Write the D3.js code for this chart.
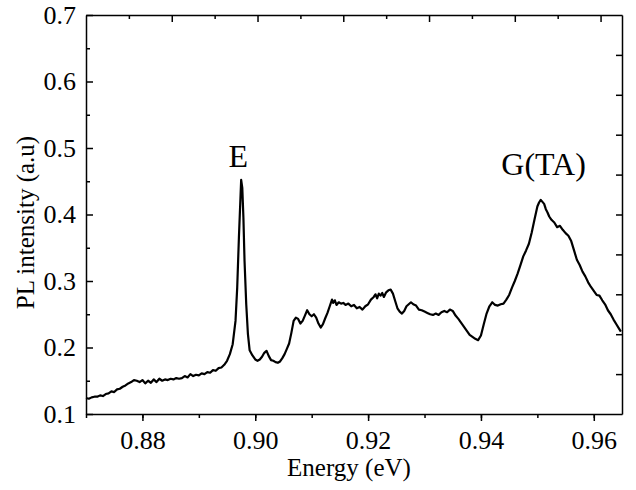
<!DOCTYPE html>
<html>
<head>
<meta charset="utf-8">
<script src="https://cdn.jsdelivr.net/npm/d3@7"></script>
<style>
  body { margin: 0; background: #fff; }
  .axis path, .axis line { stroke: #000; stroke-width: 1.5px; }
</style>
</head>
<body>
<svg width="636" height="490"></svg>
<script>
(function() {
  'use strict';

  // PL spectrum
  const energy = [
    0.8700, 0.8705, 0.8710, 0.8715, 0.8720, 0.8725, 0.8730, 0.8735, 0.8740, 0.8745,
    0.8750, 0.8755, 0.8760, 0.8765, 0.8770, 0.8775, 0.8780, 0.8785, 0.8790, 0.8795,
    0.8800, 0.8805, 0.8810, 0.8815, 0.8820, 0.8825, 0.8830, 0.8835, 0.8840, 0.8845,
    0.8850, 0.8855, 0.8860, 0.8865, 0.8870, 0.8875, 0.8880, 0.8885, 0.8890, 0.8895,
    0.8900, 0.8905, 0.8910, 0.8915, 0.8920, 0.8925, 0.8930, 0.8935, 0.8940, 0.8945,
    0.8950, 0.8955, 0.8960, 0.8965, 0.8968, 0.8971, 0.8974, 0.8975, 0.8977, 0.8979,
    0.8981, 0.8984, 0.8987, 0.8990, 0.8995, 0.9000, 0.9004, 0.9008, 0.9012, 0.9016,
    0.9020, 0.9024, 0.9028, 0.9032, 0.9036, 0.9040, 0.9044, 0.9048, 0.9052, 0.9056,
    0.9060, 0.9064, 0.9068, 0.9072, 0.9076, 0.9080, 0.9084, 0.9088, 0.9092, 0.9096,
    0.9100, 0.9104, 0.9108, 0.9112, 0.9116, 0.9120, 0.9124, 0.9128, 0.9132, 0.9136,
    0.9138, 0.9141, 0.9144, 0.9148, 0.9152, 0.9156, 0.9160, 0.9165, 0.9170, 0.9175,
    0.9180, 0.9185, 0.9190, 0.9195, 0.9200, 0.9205, 0.9210, 0.9213, 0.9216, 0.9219,
    0.9222, 0.9225, 0.9228, 0.9232, 0.9236, 0.9240, 0.9244, 0.9248, 0.9252, 0.9256,
    0.9260, 0.9264, 0.9268, 0.9272, 0.9276, 0.9280, 0.9285, 0.9290, 0.9295, 0.9300,
    0.9305, 0.9310, 0.9315, 0.9320, 0.9325, 0.9330, 0.9335, 0.9340, 0.9345, 0.9350,
    0.9355, 0.9360, 0.9365, 0.9370, 0.9375, 0.9380, 0.9385, 0.9390, 0.9395, 0.9400,
    0.9405, 0.9410, 0.9415, 0.9420, 0.9425, 0.9430, 0.9435, 0.9440, 0.9445, 0.9450,
    0.9455, 0.9460, 0.9465, 0.9470, 0.9475, 0.9480, 0.9485, 0.9490, 0.9495, 0.9500,
    0.9503, 0.9506, 0.9509, 0.9512, 0.9515, 0.9518, 0.9521, 0.9525, 0.9530, 0.9535,
    0.9540, 0.9545, 0.9550, 0.9555, 0.9560, 0.9565, 0.9570, 0.9575, 0.9580, 0.9585,
    0.9590, 0.9595, 0.9600, 0.9605, 0.9610, 0.9615, 0.9620, 0.9625, 0.9630, 0.9635,
    0.9640, 0.9645, 0.9648,
  ];
  const intensity = [
    0.124, 0.123, 0.125, 0.126, 0.126, 0.128, 0.127, 0.130, 0.131, 0.134,
    0.133, 0.137, 0.138, 0.141, 0.143, 0.146, 0.148, 0.151, 0.150, 0.148,
    0.151, 0.146, 0.150, 0.147, 0.152, 0.148, 0.153, 0.150, 0.152, 0.151,
    0.153, 0.152, 0.154, 0.153, 0.154, 0.157, 0.155, 0.160, 0.157, 0.159,
    0.158, 0.161, 0.160, 0.163, 0.162, 0.166, 0.165, 0.169, 0.170, 0.174,
    0.180, 0.190, 0.205, 0.240, 0.290, 0.365, 0.430, 0.452, 0.440, 0.395,
    0.330, 0.265, 0.220, 0.196, 0.188, 0.182, 0.180, 0.182, 0.186, 0.192,
    0.195, 0.187, 0.181, 0.180, 0.178, 0.177, 0.179, 0.184, 0.190, 0.198,
    0.206, 0.222, 0.240, 0.245, 0.243, 0.236, 0.240, 0.248, 0.256, 0.250,
    0.247, 0.250, 0.245, 0.236, 0.230, 0.235, 0.244, 0.252, 0.262, 0.272,
    0.267, 0.271, 0.264, 0.268, 0.266, 0.267, 0.264, 0.266, 0.262, 0.264,
    0.259, 0.261, 0.257, 0.262, 0.265, 0.272, 0.276, 0.280, 0.274, 0.281,
    0.278, 0.282, 0.276, 0.283, 0.286, 0.287, 0.281, 0.270, 0.259, 0.254,
    0.251, 0.255, 0.262, 0.265, 0.268, 0.265, 0.263, 0.257, 0.256, 0.254,
    0.252, 0.250, 0.249, 0.251, 0.249, 0.253, 0.255, 0.253, 0.257, 0.255,
    0.248, 0.243, 0.237, 0.231, 0.225, 0.219, 0.216, 0.213, 0.211, 0.218,
    0.235, 0.251, 0.262, 0.268, 0.264, 0.263, 0.265, 0.266, 0.272, 0.279,
    0.290, 0.300, 0.311, 0.324, 0.337, 0.346, 0.356, 0.373, 0.393, 0.412,
    0.418, 0.422, 0.419, 0.416, 0.408, 0.403, 0.397, 0.392, 0.388, 0.381,
    0.383, 0.377, 0.372, 0.368, 0.360, 0.346, 0.332, 0.324, 0.314, 0.307,
    0.298, 0.291, 0.285, 0.279, 0.278, 0.271, 0.265, 0.256, 0.250, 0.242,
    0.235, 0.228, 0.224,
  ];

  const xTicks = [0.88, 0.90, 0.92, 0.94, 0.96];
  const yTicks = [0.1, 0.2, 0.3, 0.4, 0.5, 0.6, 0.7];
  const peakLabels = [
    {text: 'E', e: 0.8970, v: 0.489},
    {text: 'G(TA)', e: 0.9511, v: 0.476},
  ];

  const serif = '"Liberation Serif", "Times New Roman", serif';
  const margin = {top: 15, right: 14, bottom: 76, left: 86};
  const svg = d3.select('svg');
  const width = +svg.attr('width') - margin.left - margin.right;
  const height = +svg.attr('height') - margin.top - margin.bottom;

  const g = svg.append('g')
      .attr('transform', 'translate(' + margin.left + ',' + margin.top + ')');

  const x = d3.scaleLinear().domain([0.87, 0.965]).range([0, width]);
  const y = d3.scaleLinear().domain([0.1, 0.7]).range([height, 0]);
  // unlabelled mirror axes carry their own tick spacing
  const xTop = d3.scaleLinear().domain([0, 12.5]).range([0, width]);
  const yRight = d3.scaleLinear().domain([0, 10]).range([height, 0]);

  const fmt = d3.format('.2f');

  // bottom axis: major labelled, minor in between, ticks outward
  g.append('g')
      .attr('class', 'axis')
      .attr('transform', 'translate(0,' + height + ')')
      .call(d3.axisBottom(x).tickValues(d3.range(0.87, 0.9651, 0.01)).tickSize(4).tickFormat(''))
      .call((a) => a.select('.domain').remove());
  g.append('g')
      .attr('class', 'axis')
      .attr('transform', 'translate(0,' + height + ')')
      .call(d3.axisBottom(x).tickValues(xTicks).tickSize(7).tickSizeOuter(0).tickFormat(fmt).tickPadding(10));

  // left axis: ticks inward
  g.append('g')
      .attr('class', 'axis')
      .call(d3.axisLeft(y).tickValues(d3.range(0.15, 0.7, 0.1)).tickSize(-4).tickFormat(''))
      .call((a) => a.select('.domain').remove());
  g.append('g')
      .attr('class', 'axis')
      .call(d3.axisLeft(y).tickValues(yTicks).tickSize(-7).tickSizeOuter(0).tickFormat(d3.format('.1f')).tickPadding(10));

  // top axis
  g.append('g')
      .attr('class', 'axis')
      .call(d3.axisTop(xTop).tickValues(d3.range(1, 13)).tickFormat('')
          .tickSizeOuter(0).tickSizeInner(-4))
      .call((a) => a.selectAll('.tick line')
          .attr('y2', (d) => d % 2 === 0 ? 7 : 4));

  // right axis
  g.append('g')
      .attr('class', 'axis')
      .attr('transform', 'translate(' + width + ',0)')
      .call(d3.axisRight(yRight).tickValues(d3.range(1, 10)).tickFormat('')
          .tickSizeOuter(0).tickSizeInner(-6));

  g.selectAll('.axis text')
      .style('font-family', serif)
      .style('font-size', '26px')
      .style('fill', '#000');

  const pts = energy.map((e, i) => [e, intensity[i]]);
  const line = d3.line()
      .x((d) => x(d[0]))
      .y((d) => y(d[1]));

  g.append('path')
      .datum(pts)
      .attr('fill', 'none')
      .attr('stroke', '#000')
      .attr('stroke-width', 2.2)
      .attr('stroke-linejoin', 'round')
      .attr('d', line);

  g.selectAll('.peak')
      .data(peakLabels)
      .enter().append('text')
      .attr('class', 'peak')
      .attr('x', (d) => x(d.e))
      .attr('y', (d) => y(d.v))
      .attr('dy', '0.35em')
      .attr('text-anchor', 'middle')
      .style('font-family', serif)
      .style('font-size', '32px')
      .text((d) => d.text);

  svg.append('text')
      .attr('x', margin.left + width / 2 - 5)
      .attr('y', 476)
      .attr('text-anchor', 'middle')
      .style('font-family', serif)
      .style('font-size', '25px')
      .text('Energy (eV)');

  svg.append('text')
      .attr('transform', 'translate(34,' + (margin.top + height / 2 + 8) + ') rotate(-90)')
      .attr('text-anchor', 'middle')
      .style('font-family', serif)
      .style('font-size', '25px')
      .text('PL intensity (a.u)');
})();
</script>
</body>
</html>
